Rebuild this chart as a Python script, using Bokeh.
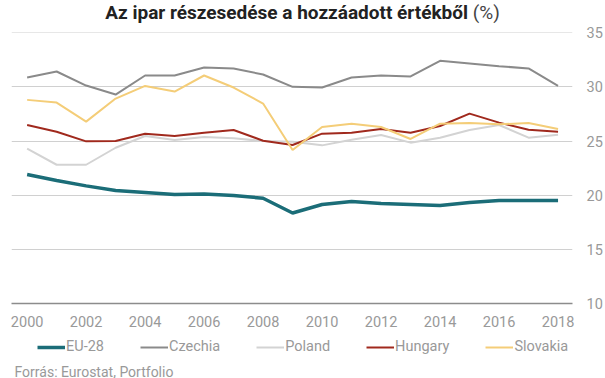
from bokeh.plotting import figure
from bokeh.layouts import column
from bokeh.models import (ColumnDataSource, Legend, LegendItem, FixedTicker, Range1d, Label, Div)
from bokeh.embed import file_html
from bokeh.resources import INLINE

years = list(range(2000, 2019))
eu28 = [21.91, 21.36, 20.86, 20.43, 20.25, 20.06, 20.12, 19.97, 19.72, 18.36,
        19.14, 19.41, 19.23, 19.14, 19.04, 19.32, 19.51, 19.51, 19.51]
czechia = [30.86, 31.42, 30.12, 29.29, 31.05, 31.05, 31.79, 31.70, 31.14, 30.00,
           29.94, 30.86, 31.05, 30.96, 32.41, 32.16, 31.91, 31.70, 30.09]
poland = [24.29, 22.81, 22.81, 24.38, 25.46, 25.09, 25.37, 25.25, 25.00, 24.94,
          24.60, 25.12, 25.56, 24.85, 25.31, 26.02, 26.48, 25.31, 25.59]
hungary = [26.48, 25.86, 24.97, 25.00, 25.68, 25.46, 25.77, 26.02, 25.03, 24.63,
           25.68, 25.77, 26.11, 25.77, 26.39, 27.53, 26.70, 26.05, 25.86]
slovakia = [28.80, 28.55, 26.79, 28.92, 30.09, 29.57, 31.05, 29.94, 28.46, 24.17,
            26.30, 26.60, 26.30, 25.19, 26.60, 26.67, 26.54, 26.67, 26.11]

series_names = ["EU-28", "Czechia", "Poland", "Hungary", "Slovakia"]
series_values = [eu28, czechia, poland, hungary, slovakia]
series_colors = ["#1b6d78", "#8a8a8a", "#d3d3d3", "#a0291d", "#f4cd78"]
series_widths = [3.5, 2, 2, 2, 2]

x_ticks = list(range(2000, 2019, 2))
y_ticks = [10, 15, 20, 25, 30, 35]

title_main = "Az ipar részesedése a hozzáadott értékből"
title_unit = "(%)"
source_text = "Forrás: Eurostat, Portfolio"

FONT = "Roboto"
GRAY = "#999999"
W = 605

src = ColumnDataSource(dict(year=years, **{n: v for n, v in zip(series_names, series_values)}))

# ---- title ----
title_div = Div(
    text=(f'<span style="font-weight:bold;color:#222222">{title_main}</span> '
          f'<span style="color:#444444">{title_unit}</span>'),
    width=W, height=26, margin=0,
    styles={"font-family": "Roboto", "font-size": "19px", "line-height": "26px",
            "text-align": "center", "white-space": "nowrap"})

# ---- main chart ----
p = figure(width=W, height=306, output_backend="svg", toolbar_location=None,
           x_range=Range1d(1999.47, 2018.49), y_range=Range1d(10, 35.02),
           y_axis_location="right",
           min_border_left=11, min_border_right=33, min_border_top=6,
           min_border_bottom=29)
p.outline_line_color = None

for n, c, w in zip(series_names, series_colors, series_widths):
    p.line("year", n, source=src, line_color=c, line_width=w)

p.xaxis.ticker = FixedTicker(ticks=x_ticks)
p.yaxis.ticker = FixedTicker(ticks=y_ticks)
for ax in (p.xaxis[0], p.yaxis[0]):
    ax.major_tick_line_color = None
    ax.minor_tick_line_color = None
    ax.major_tick_out = 0
    ax.major_tick_in = 0
    ax.major_label_text_font = FONT
    ax.major_label_text_font_size = "14.5px"
    ax.major_label_text_color = GRAY
p.xaxis.axis_line_color = "#8c8c8c"
p.xaxis.axis_line_width = 1.5
p.xaxis.major_label_standoff = 12
p.yaxis.axis_line_color = None
p.yaxis.major_label_standoff = 14

p.xgrid.grid_line_color = None
p.ygrid.grid_line_color = "#d0d0d0"
p.ygrid.grid_line_width = 1

# ---- legend + source strip (series drawn off-view, only their legend shows) ----
pl = figure(frame_width=W, frame_height=46, output_backend="svg", toolbar_location=None,
            x_axis_location=None, y_axis_location=None,
            x_range=Range1d(0, 1), y_range=Range1d(0, 1), min_border=0)
pl.outline_line_color = None
pl.xgrid.visible = False
pl.ygrid.visible = False
items = []
for n, c, w in zip(series_names, series_colors, series_widths):
    r = pl.line("year", n, source=src, line_color=c, line_width=w)
    items.append(LegendItem(label=n, renderers=[r]))
legend = Legend(items=items, orientation="horizontal", location=(37, 23),
                spacing=36, padding=0, margin=0, border_line_color=None,
                background_fill_alpha=0, label_standoff=1, glyph_width=28,
                glyph_height=16, label_height=16,
                label_text_font=FONT, label_text_font_size="14.5px",
                label_text_color=GRAY)
pl.add_layout(legend)
pl.add_layout(Label(x=3, y=7, x_units="screen", y_units="screen", text=source_text,
                    text_baseline="alphabetic", text_font=FONT, text_font_size="14px",
                    text_color=GRAY))

layout = column(title_div, p, pl, spacing=0)
open("out.html", "w").write(file_html(layout, INLINE))
